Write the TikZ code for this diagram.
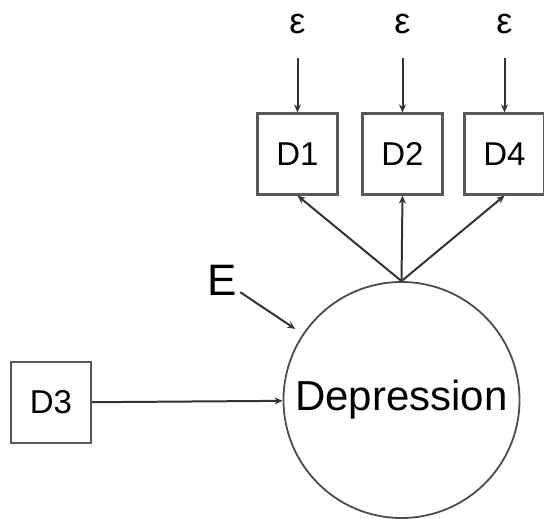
\documentclass[tikz,border=0pt]{standalone}
\usepackage{fontspec}
\setmainfont{Liberation Sans}
\usetikzlibrary{arrows.meta}
\tikzset{
  box/.style={draw=black!65,line width=2.2pt,minimum width=80pt,minimum height=81pt,
    inner sep=0pt,font=\fontsize{33}{33}\selectfont},
  latent/.style={circle,draw=black!70,line width=1.8pt,minimum size=236pt,inner sep=0pt,
    font=\fontsize{42}{42}\selectfont},
  err/.style={inner sep=0pt,font=\fontsize{36}{36}\selectfont},
}
\begin{document}
\begin{tikzpicture}[x=1pt,y=-1pt,>={Stealth[length=8pt,width=7pt]},
    every edge/.style={draw=black!80,line width=2pt}]
  \useasboundingbox (0,0) rectangle (544,519);
  \node[latent] (dep) at (401.5,400) {Depression};
  \node[box] (D3) at (51,402.5) {D3};
  \node[inner sep=0pt,font=\fontsize{44}{44}\selectfont] (E) at (222,280) {E};
  \foreach \name/\x in {D1/297.5,D2/402.5,D4/504.5} {
    \node[box] (\name) at (\x,154) {\name};
    \node[err] (e\name) at (\x,24) {ε};
  }

  \path[->] (D3) edge (dep)
            (E) edge [shorten <=4pt,shorten >=9pt] (dep)
            (dep.north) edge (D1.south)
                        edge (D2.south)
                        edge (D4.south)
            (eD1) edge [shorten <=24pt] (D1)
            (eD2) edge [shorten <=24pt] (D2)
            (eD4) edge [shorten <=24pt] (D4);
\end{tikzpicture}
\end{document}
